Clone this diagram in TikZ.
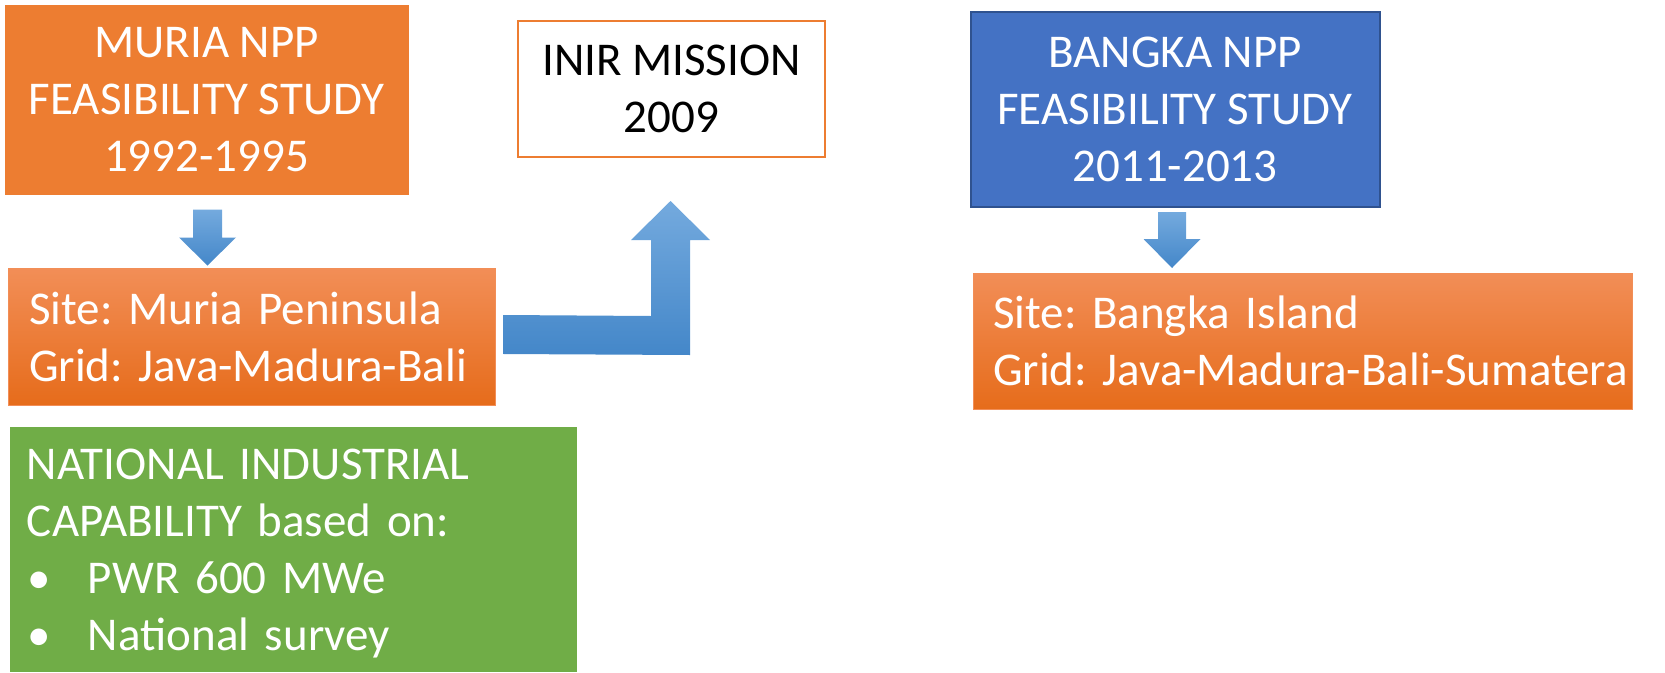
\documentclass[tikz,border=0pt]{standalone}
\usepackage{fontspec}
\setmainfont{Carlito}
\usetikzlibrary{calc}
\definecolor{orangeA}{HTML}{ED7D31}
\definecolor{orangeTop}{HTML}{F28E57}
\definecolor{orangeBot}{HTML}{E66C1B}
\definecolor{blueA}{HTML}{4472C4}
\definecolor{blueB}{HTML}{2F528F}
\definecolor{greenA}{HTML}{70AD47}
\definecolor{arrTop}{HTML}{74AADE}
\definecolor{arrBot}{HTML}{4487C9}
\tikzset{
  box/.style={rectangle, inner ysep=0pt, font=\fontsize{47}{57}\selectfont\frenchspacing},
  solidorange/.style={box, fill=orangeA, draw=orangeA, line width=1pt, text=white, align=center},
  gradorange/.style={box, top color=orangeTop, bottom color=orangeBot, draw=orangeTop, line width=1pt, text=white, align=left},
  outlinebox/.style={box, fill=white, draw=orangeA, line width=2pt, text=black, align=center},
  bluebox/.style={box, fill=blueA, draw=blueB, line width=2pt, text=white, align=center},
  greenbox/.style={box, fill=greenA, draw=none, text=white, align=left},
  blockarrow/.style={top color=arrTop, bottom color=arrBot, draw=none},
}
\newcommand{\bul}{\makebox[61pt][l]{\hspace{1pt}•}}
\begin{document}
\begin{tikzpicture}[x=1pt,y=-1pt]
\useasboundingbox (0,0) rectangle (1665,672);

\node[solidorange, minimum width=403, minimum height=189] (muria) at (206.5,99.5)
  {MURIA NPP\\FEASIBILITY STUDY\\1992-1995};
\node[gradorange, minimum width=487, minimum height=137, inner xsep=21pt, text width=445pt] (site1) at (251.5,336.5)
  {Site: Muria Peninsula\\\smash{Grid: Java-Madura-Bali}};
\node[greenbox, minimum width=567, minimum height=245, inner xsep=17pt, text width=533pt] (natcap) at (293.5,549.5)
  {NATIONAL INDUSTRIAL\\CAPABILITY based on:\\\bul PWR 600 MWe\\\smash{\bul National survey}};
\node[outlinebox, minimum width=307, minimum height=136] (inir) at (671.5,89)
  {INIR MISSION\\2009};
\node[bluebox, minimum width=409, minimum height=195] (bangka) at (1175,109.5)
  {BANGKA NPP\\FEASIBILITY STUDY\\2011-2013};
\node[gradorange, minimum width=659, minimum height=136, inner xsep=20pt, text width=619pt] (site2) at (1302.5,341)
  {Site: Bangka Island\\\smash{Grid: Java-Madura-Bali-Sumatera}};

% down arrow: muria -> site1
\coordinate (a1) at ($(muria.south)+(1,15)$);
\path[blockarrow, shift={(a1)}] (-14.5,0) -- (14.5,0) -- (14.5,28) -- (28.5,28) -- (0,56) -- (-28.5,28) -- (-14.5,28) -- cycle;

% down arrow: bangka -> site2
\coordinate (a2) at ($(bangka.south)+(-3,4)$);
\path[blockarrow, shift={(a2)}] (-14,0) -- (14,0) -- (14,27) -- (28.5,27) -- (0,56) -- (-28.5,27) -- (-14,27) -- cycle;

% bent arrow: site1 -> inir
\coordinate (b0) at ($(site1.east)+(8,0)$);
\coordinate (b1) at ($(inir.south)+(-1,43)$);
\path[blockarrow] ($(b0)+(0,-21.5)$) -- ($(b1)+(-19.5,115)$) -- ($(b1)+(-19.5,39)$) -- ($(b1)+(-39.5,39)$)
  -- (b1) -- ($(b1)+(39.5,39)$) -- ($(b1)+(19.5,39)$) -- ($(b1)+(19.5,154)$) -- ($(b0)+(0,17.5)$) -- cycle;
\end{tikzpicture}
\end{document}
